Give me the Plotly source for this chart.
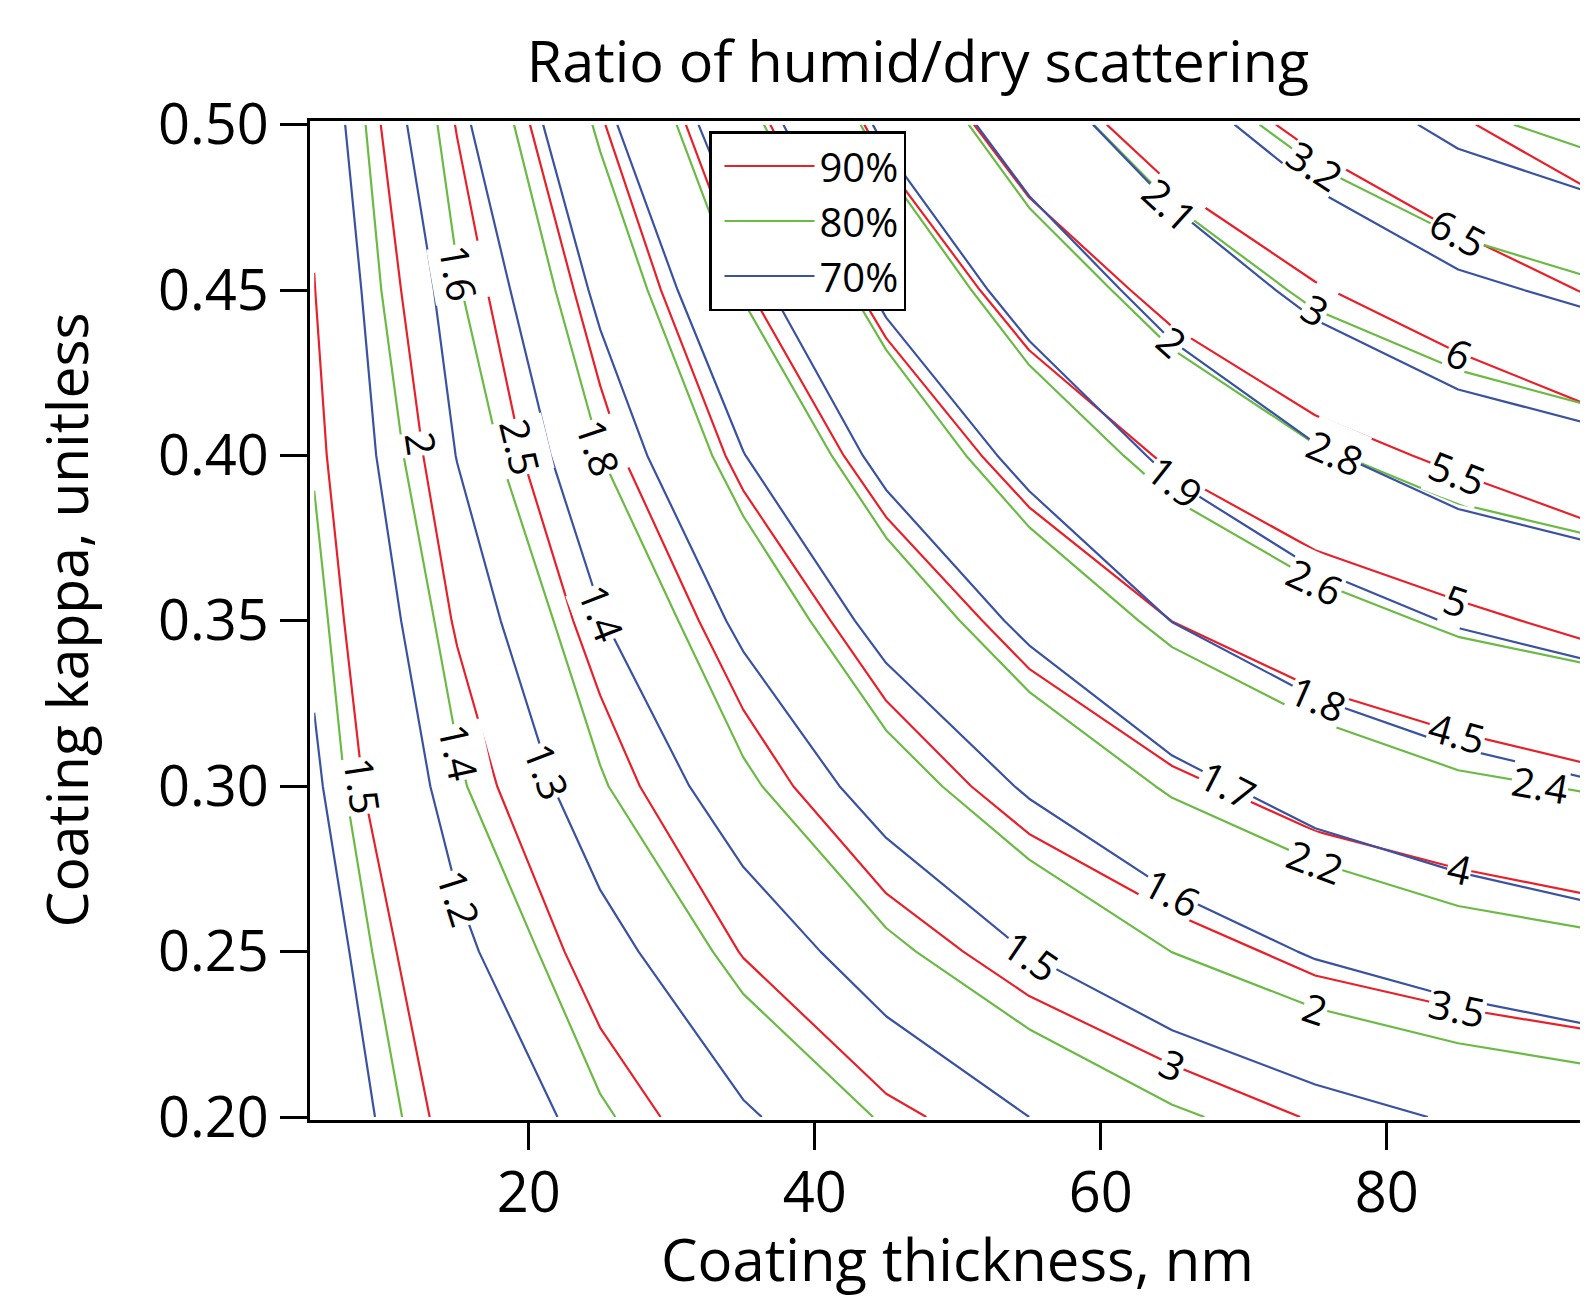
import math
import plotly.graph_objects as go

# Grid of the model run
thickness_nm = [5, 15, 25, 35, 45, 55, 65, 75, 85, 95]
kappa = [0.20, 0.25, 0.30, 0.35, 0.40, 0.45, 0.50]

# Ratio of humid/dry scattering, rows = kappa, columns = thickness
ratio_90 = [
    [1.240, 1.562, 1.877, 2.168, 2.443, 2.646, 2.830, 3.020, 3.120, 3.190],
    [1.250, 1.684, 2.105, 2.513, 2.848, 3.130, 3.368, 3.581, 3.698, 3.793],
    [1.315, 1.858, 2.366, 2.849, 3.280, 3.650, 3.930, 4.156, 4.299, 4.421],
    [1.361, 2.026, 2.610, 3.175, 3.706, 4.143, 4.502, 4.740, 4.920, 5.100],
    [1.435, 2.176, 2.889, 3.587, 4.175, 4.663, 5.053, 5.350, 5.571, 5.794],
    [1.494, 2.327, 3.152, 3.971, 4.633, 5.193, 5.627, 5.968, 6.260, 6.550],
    [1.552, 2.515, 3.468, 4.356, 5.116, 5.742, 6.217, 6.607, 6.952, 7.340],
]
ratio_80 = [
    [1.117, 1.252, 1.388, 1.501, 1.610, 1.697, 1.784, 1.855, 1.893, 1.926],
    [1.129, 1.304, 1.474, 1.634, 1.776, 1.891, 2.001, 2.075, 2.133, 2.170],
    [1.149, 1.386, 1.589, 1.778, 1.944, 2.087, 2.215, 2.305, 2.376, 2.413],
    [1.174, 1.443, 1.676, 1.903, 2.110, 2.285, 2.435, 2.542, 2.624, 2.672],
    [1.207, 1.516, 1.798, 2.056, 2.289, 2.488, 2.658, 2.783, 2.872, 2.927],
    [1.232, 1.590, 1.896, 2.210, 2.463, 2.693, 2.879, 3.029, 3.120, 3.185],
    [1.257, 1.655, 2.020, 2.357, 2.653, 2.908, 3.112, 3.256, 3.370, 3.447],
]
ratio_70 = [
    [1.066, 1.146, 1.223, 1.293, 1.347, 1.400, 1.437, 1.474, 1.507, 1.526],
    [1.072, 1.186, 1.278, 1.360, 1.434, 1.502, 1.557, 1.606, 1.637, 1.662],
    [1.092, 1.225, 1.337, 1.438, 1.530, 1.608, 1.677, 1.732, 1.768, 1.796],
    [1.110, 1.258, 1.396, 1.514, 1.624, 1.716, 1.801, 1.859, 1.906, 1.936],
    [1.122, 1.302, 1.452, 1.598, 1.720, 1.823, 1.917, 1.990, 2.045, 2.075],
    [1.135, 1.332, 1.515, 1.672, 1.816, 1.934, 2.037, 2.124, 2.183, 2.220],
    [1.150, 1.381, 1.579, 1.755, 1.915, 2.050, 2.162, 2.249, 2.320, 2.361],
]

series_names = ["90%", "80%", "70%"]
series_data = [ratio_90, ratio_80, ratio_70]
level_start = [1.5, 1.2, 1.1]
level_end = [7.0, 3.4, 2.3]
level_step = [0.5, 0.2, 0.1]

# contour labels: which levels are labelled, and the thickness along the line where each sits
label_levels = [
    [1.5, 2, 2.5, 3, 3.5, 4, 4.5, 5, 5.5, 6, 6.5],
    [1.4, 1.6, 1.8, 2, 2.2, 2.4, 2.6, 2.8, 3, 3.2],
    [1.2, 1.3, 1.4, 1.5, 1.6, 1.7, 1.8, 1.9, 2, 2.1],
]
label_at_nm = [
    [8.4, 12.5, 19.4, 65.0, 84.9, 85.1, 84.9, 84.9, 84.9, 85.1, 85.0],
    [15.1, 15.1, 24.9, 75.0, 75.0, 90.7, 75.0, 76.4, 75.0, 75.0],
    [15.15, 21.3, 25.1, 55.1, 65.0, 68.9, 75.2, 65.2, 65.0, 64.85],
]

colors = ["#E8202A", "#6BBA45", "#3A52A2"]
FONT = "Open Sans, Noto Sans, DejaVu Sans, sans-serif"

# page is shown with the browser's default 8px body margin, so the figure is
# sized so that its plot area lands where the reference has it
OFF = 8
W, H = 1588 - OFF, 1300 - OFF
PLOT_L, PLOT_T, PLOT_B = 310, 121, 1120          # page pixels
M_L, M_T, M_R = PLOT_L - OFF, PLOT_T - OFF, 0
M_B = H - (PLOT_B - OFF)
PW = W - M_L - M_R
PH = H - M_T - M_B
X_RANGE = [4.706, 94.08]
Y_RANGE = [0.1991, 0.5011]
SX = PW / (X_RANGE[1] - X_RANGE[0])   # px per nm
SY = PH / (Y_RANGE[1] - Y_RANGE[0])   # px per kappa


def paper_x(px):
    return (px - PLOT_L) / PW


def paper_y(py):
    return (PLOT_B - py) / PH


def locate(vals, v):
    n = len(vals)
    if v <= vals[0]:
        return 0, 0.0
    if v >= vals[-1]:
        return n - 2, 1.0
    for i in range(n - 1):
        if vals[i] <= v <= vals[i + 1]:
            return i, (v - vals[i]) / (vals[i + 1] - vals[i])
    return n - 2, 1.0


def z_at(grid, x, k):
    i, tx = locate(thickness_nm, x)
    j, ty = locate(kappa, k)
    z00, z10 = grid[j][i], grid[j][i + 1]
    z01, z11 = grid[j + 1][i], grid[j + 1][i + 1]
    return (z00 * (1 - tx) * (1 - ty) + z10 * tx * (1 - ty)
            + z01 * (1 - tx) * ty + z11 * tx * ty)


def kappa_on_level(grid, x, level):
    lo, hi = kappa[0], kappa[-1]
    if not (z_at(grid, x, lo) <= level <= z_at(grid, x, hi)):
        return None
    for _ in range(60):
        mid = 0.5 * (lo + hi)
        if z_at(grid, x, mid) < level:
            lo = mid
        else:
            hi = mid
    return 0.5 * (lo + hi)


def label_angle(grid, x, k):
    hx, hk = 1.5, 0.01
    gx = (z_at(grid, x + hx, k) - z_at(grid, x - hx, k)) / (2 * hx)
    k_hi, k_lo = min(k + hk, kappa[-1]), max(k - hk, kappa[0])
    gk = (z_at(grid, x, k_hi) - z_at(grid, x, k_lo)) / (k_hi - k_lo)
    gX = gx / SX
    gYdown = -gk / SY
    tX, tY = -gYdown, gX
    if tX < 0:
        tX, tY = -tX, -tY
    return math.degrees(math.atan2(tY, tX))


fig = go.Figure()

for name, z, s, e, st, col in zip(series_names, series_data, level_start,
                                   level_end, level_step, colors):
    fig.add_trace(go.Contour(
        x=thickness_nm, y=kappa, z=z,
        autocontour=False,
        contours=dict(start=s, end=e, size=st, coloring="lines", showlabels=False),
        colorscale=[[0, col], [1, col]],
        showscale=False,
        line=dict(width=2.2, smoothing=0),
        hoverinfo="skip",
        showlegend=False,
        name=name,
    ))

# legend entries
for name, col in zip(series_names, colors):
    fig.add_trace(go.Scatter(x=[None], y=[None], mode="lines", name=name,
                             line=dict(color=col, width=2.2)))

annotations = []
for grid, levels, where in zip(series_data, label_levels, label_at_nm):
    for lev, xnm in zip(levels, where):
        k = kappa_on_level(grid, xnm, lev)
        if k is None:
            continue
        annotations.append(dict(
            x=xnm, y=k, xref="x", yref="y", text=f"{lev:g}", showarrow=False,
            textangle=label_angle(grid, xnm, k), xanchor="center", yanchor="middle",
            font=dict(family=FONT, size=40, color="black"),
            bgcolor="white", borderpad=0,
        ))

annotations.append(dict(text="Coating thickness, nm", xref="paper", yref="paper",
                        x=paper_x(957), y=paper_y(1258),
                        showarrow=False, xanchor="center", yanchor="middle",
                        font=dict(family=FONT, size=58, color="black")))
annotations.append(dict(text="Coating kappa, unitless", xref="paper", yref="paper",
                        x=paper_x(65), y=0.5, textangle=-90,
                        showarrow=False, xanchor="center", yanchor="middle",
                        font=dict(family=FONT, size=57, color="black")))

fig.update_layout(
    width=W, height=H,
    margin=dict(l=M_L, r=M_R, t=M_T, b=M_B, autoexpand=False),
    paper_bgcolor="white", plot_bgcolor="white",
    font=dict(family=FONT, color="black"),
    title=dict(text="Ratio of humid/dry scattering", font=dict(size=57.5, color="black"),
               x=(918 - OFF) / W, xref="container", xanchor="center",
               y=1 - (62 - OFF) / H, yref="container", yanchor="middle"),
    legend=dict(x=paper_x(709), y=paper_y(131),
                xanchor="left", yanchor="top",
                bgcolor="white", bordercolor="black", borderwidth=2.5,
                font=dict(family=FONT, size=40, color="black"), itemwidth=90,
                indentation=8, tracegroupgap=0),
    showlegend=True,
    annotations=annotations,
)

fig.update_xaxes(
    range=X_RANGE, tickmode="linear", tick0=0, dtick=20, automargin=False,
    showline=True, linecolor="black", linewidth=3, mirror=True,
    ticks="outside", ticklen=27, tickwidth=3, tickcolor="black",
    tickfont=dict(family=FONT, size=56, color="black"), showgrid=False, zeroline=False,
    ticklabelstandoff=-5,
)
fig.update_yaxes(
    range=Y_RANGE, tickmode="linear", tick0=0.2, dtick=0.05, tickformat=".2f",
    automargin=False,
    showline=True, linecolor="black", linewidth=3, mirror=False,
    ticks="outside", ticklen=27, tickwidth=3, tickcolor="black",
    tickfont=dict(family=FONT, size=56, color="black"), showgrid=False, zeroline=False,
    ticklabelstandoff=0,
)

fig.write_html("out.html")
